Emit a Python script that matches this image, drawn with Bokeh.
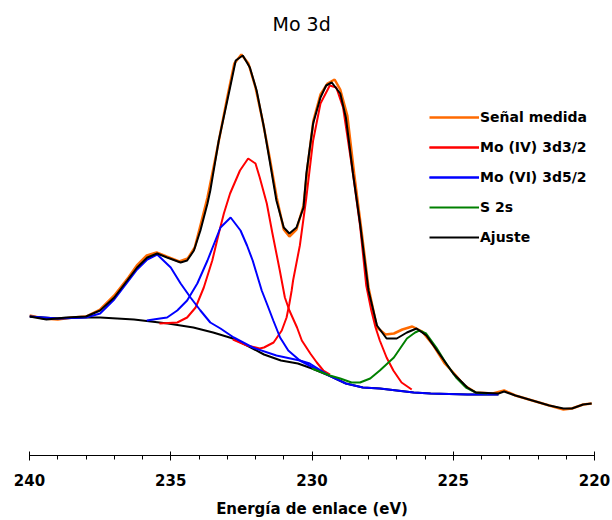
from bokeh.plotting import figure
from bokeh.models import Range1d, SingleIntervalTicker, Legend, LegendItem
from bokeh.embed import file_html
from bokeh.resources import INLINE

# ---- data (binding energy in eV, intensity in arbitrary units) ----
meas_e = [240.0, 239.5, 239.0, 238.5, 238.0, 237.5, 237.0, 236.5, 236.2, 235.85, 235.5, 235.15,
          234.7, 234.4, 234.15, 233.95, 233.7, 233.4, 233.0, 232.75, 232.5, 232.25, 232.0,
          231.75, 231.5, 231.25, 231.0, 230.8, 230.55, 230.3, 230.15, 229.95, 229.7, 229.45,
          229.2, 229.0, 228.75, 228.5, 228.25, 228.0, 227.7, 227.4, 227.1, 226.8, 226.45,
          226.1, 225.7, 225.3, 225.0, 224.6, 224.2, 223.6, 223.2, 222.8, 222.2, 221.6, 221.1,
          220.8, 220.4, 220.1]
meas_i = [140, 137, 136, 138, 139, 146, 160, 178, 190, 200, 203, 199,
          194, 197, 208, 230, 258, 300, 358, 392, 401, 392, 368,
          335, 298, 258, 226, 219, 226, 250, 290, 335, 361, 372,
          376, 366, 340, 280, 225, 168, 128, 121, 122, 126, 129,
          124, 110, 92, 83, 70, 63, 62, 65, 60, 55, 50, 46,
          47, 51, 52]

fit_e = [240.0, 239.4, 238.7, 238.0, 237.5, 237.0, 236.54, 236.19, 235.83, 235.48, 235.13,
         234.65, 234.42, 234.18, 233.95, 233.7, 233.6, 233.3, 232.9, 232.7, 232.45, 232.2,
         231.96, 231.7, 231.5, 231.26, 231.0, 230.8, 230.55, 230.3, 230.2, 229.96, 229.7,
         229.5, 229.3, 229.0, 228.8, 228.55, 228.3, 228.0, 227.7, 227.36, 227.0, 226.64,
         226.3, 225.95, 225.5, 225.0, 224.5, 224.2, 223.4, 223.2, 222.8, 222.2, 221.6,
         221.1, 220.8, 220.4, 220.1]
fit_i = [139, 136, 138, 139, 145, 158, 175, 188, 198, 202, 198,
         193, 195, 205, 225, 252, 265, 315, 368, 395, 400, 388,
         365, 328, 295, 255, 228, 222, 228, 248, 282, 332, 358,
         370, 373, 362, 338, 282, 232, 165, 130, 117, 117, 123,
         127, 120, 102, 82, 68, 63, 62, 64, 60, 55, 50,
         47, 47, 51, 52]

bg_e = [240.0, 239.0, 238.0, 237.5, 236.3, 235.1, 234.2, 233.5, 232.8, 232.3, 231.7, 231.1,
        230.5, 230.0, 229.4, 228.8, 228.2, 227.6, 227.0, 226.4, 225.8, 224.5, 223.4]
bg_i = [139, 137, 138, 138, 136, 132, 128, 123, 117, 110, 101, 95,
        92, 87, 80, 72, 68, 67, 65, 63, 62, 61, 61]

mo4a_e = [235.4, 234.77, 234.42, 234.12, 233.83, 233.53, 233.3, 233.12, 232.9, 232.55, 232.26,
          232.0, 231.85, 231.6, 231.4, 231.14, 230.96, 230.8, 230.53, 230.36, 230.06, 229.83,
          229.6, 229.36]
mo4a_i = [132, 133, 138, 148, 168, 195, 222, 242, 262, 285, 297,
          292, 278, 252, 222, 185, 158, 145, 128, 115, 102, 93,
          85, 81]

mo4b_e = [232.8, 232.3, 231.85, 231.7, 231.36, 231.07, 230.9, 230.8, 230.72, 230.67, 230.43,
          230.2, 229.96, 229.7, 229.37, 229.14, 228.9, 228.55, 228.3, 228.08, 227.9, 227.75,
          227.6, 227.36, 227.12, 226.83, 226.47]
mo4b_i = [116, 110, 107, 108, 113, 125, 138, 152, 165, 175, 210,
          258, 315, 352, 370, 368, 348, 282, 230, 170, 145, 128,
          115, 98, 85, 73, 66]

mo6a_e = [240.0, 239.0, 238.0, 237.5, 237.0, 236.54, 236.19, 235.83, 235.48, 235.0, 234.65,
          234.3, 233.95, 233.6, 233.24, 232.77, 232.1, 231.26, 230.43, 230.08, 229.4]
mo6a_i = [139, 137, 138, 142, 156, 173, 186, 196, 201, 188, 172,
          158, 145, 133, 127, 118, 108, 100, 95, 92, 80]

mo6b_e = [235.85, 235.38, 235.13, 234.77, 234.42, 234.06, 233.7, 233.42, 233.24, 232.88, 232.53,
          232.3, 232.1, 231.78, 231.6, 231.37, 231.13, 230.84, 230.43, 229.96, 229.4, 228.8,
          228.2, 227.6, 227.0, 226.4, 225.8, 224.5, 223.4]
mo6b_i = [135, 137, 138, 145, 155, 172, 195, 215, 228, 238, 225,
          210, 195, 165, 152, 135, 118, 105, 95, 88, 80, 72,
          68, 67, 65, 63, 62, 61, 61]

s2s_e = [230.0, 229.37, 229.0, 228.6, 228.3, 227.94, 227.6, 227.1, 226.64, 226.35, 226.2,
         225.96, 225.6, 225.25, 224.9, 224.55, 224.2, 223.8]
s2s_i = [87, 80, 77, 73, 73, 77, 85, 98, 117, 123, 125,
         122, 108, 92, 78, 68, 63, 62]

labels = ["Señal medida", "Mo (IV) 3d3/2", "Mo (VI) 3d5/2", "S 2s", "Ajuste"]
colors = ["#FF6A00", "#FF0000", "#0000FF", "#008000", "#000000"]

FONT = "DejaVu Sans"

p = figure(width=612, height=520, output_backend="svg", toolbar_location=None,
           x_range=Range1d(240, 220), y_range=Range1d(0, 415),
           min_border_left=29, min_border_right=18, min_border_top=40, min_border_bottom=65,
           title="Mo 3d")
p.yaxis.visible = False
p.grid.visible = False
p.outline_line_color = None

p.title.text_font = FONT
p.title.text_font_size = "19px"
p.title.text_font_style = "normal"
p.title.text_color = "black"
p.title.align = "left"
p.title.offset = 243
p.title.standoff = 12

ax = p.xaxis[0]
ax.ticker = SingleIntervalTicker(interval=5, num_minor_ticks=5)
ax.axis_line_color = "black"
ax.major_tick_line_color = "black"
ax.minor_tick_line_color = "black"
ax.major_tick_in = 4
ax.major_tick_out = 5
ax.minor_tick_in = 0
ax.minor_tick_out = 4
ax.major_label_text_font = FONT
ax.major_label_text_font_style = "bold"
ax.major_label_text_font_size = "15px"
ax.major_label_text_color = "black"
ax.major_label_standoff = 13
ax.axis_label = "Energía de enlace (eV)"
ax.axis_label_text_font = FONT
ax.axis_label_text_font_style = "bold"
ax.axis_label_text_font_size = "15px"
ax.axis_label_text_color = "black"
ax.axis_label_standoff = 11

W = 2
r_meas = p.line(meas_e, meas_i, line_color=colors[0], line_width=2.5)
r_bg = p.line(bg_e, bg_i, line_color="black", line_width=W)
r_m4a = p.line(mo4a_e, mo4a_i, line_color=colors[1], line_width=W)
r_m4b = p.line(mo4b_e, mo4b_i, line_color=colors[1], line_width=W)
r_m6a = p.line(mo6a_e, mo6a_i, line_color=colors[2], line_width=W)
r_m6b = p.line(mo6b_e, mo6b_i, line_color=colors[2], line_width=W)
r_s = p.line(s2s_e, s2s_i, line_color=colors[3], line_width=W)
r_fit = p.line(fit_e, fit_i, line_color=colors[4], line_width=W)

legend = Legend(items=[
    LegendItem(label=labels[0], renderers=[r_meas]),
    LegendItem(label=labels[1], renderers=[r_m4a, r_m4b]),
    LegendItem(label=labels[2], renderers=[r_m6a, r_m6b]),
    LegendItem(label=labels[3], renderers=[r_s]),
    LegendItem(label=labels[4], renderers=[r_fit]),
], location=(400, 208))
legend.glyph_width = 50
legend.glyph_height = 20
legend.label_height = 20
legend.spacing = 10
legend.label_standoff = 1
legend.padding = 0
legend.margin = 0
legend.border_line_color = None
legend.background_fill_alpha = 0
legend.label_text_font = FONT
legend.label_text_font_style = "bold"
legend.label_text_font_size = "14px"
legend.label_text_color = "black"
p.add_layout(legend, "center")

open("out.html", "w").write(file_html(p, INLINE))
